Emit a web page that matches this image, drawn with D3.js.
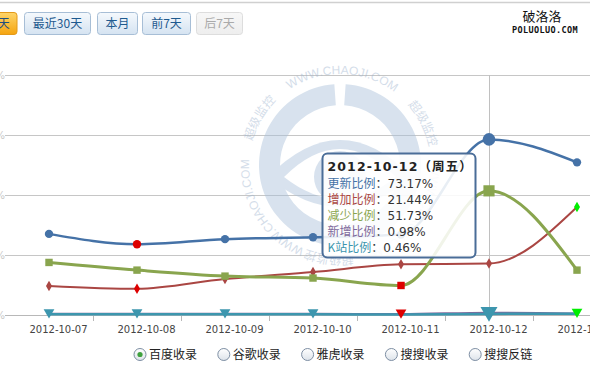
<!DOCTYPE html>
<html>
<head>
<meta charset="utf-8">
<script src="https://cdn.jsdelivr.net/npm/d3@7"></script>
<style>
  body { margin: 0; background: #fff; }
  svg { display: block; font-family: "DejaVu Sans", "Noto Sans CJK SC", sans-serif; }
</style>
</head>
<body>
<div id="viz"></div>
<script>
const dates = ["2012-10-07", "2012-10-08", "2012-10-09", "2012-10-10", "2012-10-11", "2012-10-12", "2012-10-13"];
const updateRatio = [33.8, 29.5, 31.6, 32.4, 33.5, 73.17, 63.6];
const addRatio = [12.1, 10.9, 15.0, 17.9, 21.1, 21.44, 45.0];
const reduceRatio = [21.9, 18.7, 16.2, 15.4, 12.3, 51.73, 18.7];
const newRatio = [0.5, 0.5, 0.5, 0.5, 0.4, 0.98, 0.6];
const kRatio = [0.3, 0.3, 0.3, 0.3, 0.2, 0.46, 0.5];
const seriesNames = ["更新比例", "增加比例", "减少比例", "新增比例", "K站比例"];
const yTicks = [0, 25, 50, 75, 100];
const rangeButtons = ["最近7天", "最近30天", "本月", "前7天", "后7天"];
const engines = ["百度收录", "谷歌收录", "雅虎收录", "搜搜收录", "搜搜反链"];
const hoverIndex = 5;
const hoverTitle = "2012-10-12（周五）";

const width = 590, height = 369;
const colors = ["#4572A7", "#AA4643", "#89A54E", "#80699B", "#3D96AE"];
const symbols = [d3.symbolCircle, d3.symbolDiamond, d3.symbolSquare, d3.symbolTriangle, d3.symbolTriangle];
const values = [updateRatio, addRatio, reduceRatio, newRatio, kRatio];

const svg = d3.select("#viz").append("svg").attr("width", width).attr("height", height);
const defs = svg.append("defs");

// top border line
svg.append("line").attr("x1", 0).attr("x2", width).attr("y1", 2.5).attr("y2", 2.5)
  .attr("stroke", "#d0d0d0").attr("stroke-width", 1.5);

// range buttons
function grad(id, c1, c2) {
  let g = defs.append("linearGradient").attr("id", id).attr("x1", 0).attr("x2", 0).attr("y1", 0).attr("y2", 1);
  g.append("stop").attr("offset", "0%").attr("stop-color", c1);
  g.append("stop").attr("offset", "100%").attr("stop-color", c2);
}
grad("btnOn", "#fed56a", "#f5a40f");
grad("btnOff", "#f5f9fd", "#d5e3f1");
grad("btnDis", "#f7f7f7", "#eeeeee");
const btnX = [-40, 24.5, 97.5, 142.5, 196.5];
const btnW = [57, 66, 40, 48, 46];
let btns = svg.append("g").selectAll("g").data(rangeButtons).join("g")
  .attr("transform", (d, i) => `translate(${btnX[i]},12.5)`);
btns.append("rect").attr("width", (d, i) => btnW[i]).attr("height", 22).attr("rx", 3)
  .attr("fill", (d, i) => i === 0 ? "url(#btnOn)" : i === 4 ? "url(#btnDis)" : "url(#btnOff)")
  .attr("stroke", (d, i) => i === 0 ? "#e39a1a" : i === 4 ? "#dddddd" : "#a7bed6");
btns.append("text").attr("x", (d, i) => btnW[i] / 2).attr("y", 15.5).attr("text-anchor", "middle")
  .attr("font-size", 12).attr("font-family", "Noto Sans CJK SC")
  .attr("fill", (d, i) => i === 0 ? "#1e4f80" : i === 4 ? "#aaaaaa" : "#1e5a8f")
  .text((d) => d);

// site logo
svg.append("text").attr("x", 542).attr("y", 21).attr("text-anchor", "middle")
  .attr("font-size", 13).attr("font-family", "Noto Sans CJK SC").attr("fill", "#111").text("破洛洛");
svg.append("text").attr("x", 545).attr("y", 32.5).attr("text-anchor", "middle")
  .attr("font-size", 8.5).attr("font-weight", "bold").attr("font-family", "DejaVu Sans Mono")
  .attr("letter-spacing", 0.4).attr("fill", "#111").text("POLUOLUO.COM");

// scales
const x = d3.scaleBand().domain(dates).range([5, 5 + 88 * dates.length]);
const cx = (d) => x(d) + x.bandwidth() / 2;
const y = d3.scaleLinear().domain([0, 100]).range([315, 75]);

// grid
const grid = svg.append("g");
grid.selectAll("line").data(yTicks.slice(1)).join("line")
  .attr("x1", 5).attr("x2", width).attr("y1", (d) => y(d) + 0.5).attr("y2", (d) => y(d) + 0.5)
  .attr("stroke", "#c6c6c6");
grid.selectAll("text").data(yTicks).join("text")
  .attr("x", 5).attr("y", (d) => y(d) + 4).attr("text-anchor", "end")
  .attr("font-size", 10).attr("fill", "#c8c8c8").text((d) => d + "%");

// watermark
const wm = svg.append("g").attr("transform", "translate(340,165)").attr("opacity", 0.45);
const ring = d3.arc().innerRadius(60).outerRadius(81);
wm.append("path").attr("d", ring({ startAngle: 0.07, endAngle: Math.PI * 2 - 0.07 })).attr("fill", "#a9c0da");
wm.append("path").attr("d", "M-72,12 Q0,-62 72,12 Q0,72 -72,12 Z").attr("fill", "#a9c0da");
wm.append("path").attr("d", "M-56,12 Q0,-44 56,12 Q0,56 -56,12 Z").attr("fill", "#ffffff");
wm.append("circle").attr("cx", 0).attr("cy", 12).attr("r", 26).attr("fill", "#a9c0da");
wm.append("circle").attr("cx", 0).attr("cy", 12).attr("r", 9).attr("fill", "#ffffff");
const tr = 91;
const a0 = (110 * Math.PI) / 180;
const p0 = [tr * Math.cos(a0), tr * Math.sin(a0)];
defs.append("path").attr("id", "wmPath")
  .attr("d", `M${p0[0]},${p0[1]} A${tr},${tr} 0 1 1 ${-p0[0]},${-p0[1]} A${tr},${tr} 0 1 1 ${p0[0]},${p0[1]}`);
const wmText = wm.append("text").attr("fill", "#9fb5cf").attr("font-size", 12).attr("font-family", "Liberation Sans, Noto Sans CJK SC");
const deg = (tr * Math.PI) / 180;
[0, 1, 2].forEach((k) => {
  wmText.append("textPath").attr("href", "#wmPath").attr("startOffset", (3 + 123 * k) * deg)
    .attr("textLength", 112).attr("lengthAdjust", "spacing").text("WWW.CHAOJI.COM");
  wmText.append("textPath").attr("href", "#wmPath").attr("startOffset", (85 + 123 * k) * deg)
    .attr("font-family", "Noto Sans CJK SC").text("超级监控");
});

// x axis
svg.append("line").attr("x1", 5).attr("x2", width).attr("y1", 315.5).attr("y2", 315.5)
  .attr("stroke", "#b8b8b8");
svg.append("g").selectAll("line").data(dates.slice(1)).join("line")
  .attr("x1", (d) => x(d) + 0.5).attr("x2", (d) => x(d) + 0.5).attr("y1", 315).attr("y2", 321)
  .attr("stroke", "#b8b8b8");
svg.append("g").selectAll("text").data(dates).join("text")
  .attr("x", (d) => cx(d) + 9.5).attr("y", 333).attr("text-anchor", "middle")
  .attr("font-size", 10).attr("fill", "#444").text((d) => d);

// crosshair
svg.append("line").attr("x1", cx(dates[hoverIndex]) + 0.5).attr("x2", cx(dates[hoverIndex]) + 0.5)
  .attr("y1", 75).attr("y2", 315).attr("stroke", "#c0c0c0");

// series
const line = d3.line().x((d, i) => cx(dates[i])).y((d) => y(d)).curve(d3.curveMonotoneX);
const lineW = [2.5, 2, 3, 2, 2.5];
const baseSize = [55, 32, 55, 55, 50];
values.forEach((vals, s) => {
  let g = svg.append("g");
  g.append("path").datum(vals).attr("d", line).attr("fill", "none")
    .attr("stroke", colors[s]).attr("stroke-width", lineW[s]);
  if (s === 3) return;
  let lo = d3.minIndex(vals), hi = d3.maxIndex(vals);
  let big = (i) => i === hoverIndex && s !== 1;
  g.selectAll("path.m").data(vals).join("path").attr("class", "m")
    .attr("transform", (d, i) => `translate(${cx(dates[i])},${y(d) - (s === 4 ? 2 : 0)})${s === 4 ? " rotate(180)" : ""}`)
    .attr("d", (d, i) => d3.symbol(symbols[s], big(i) ? 125 : baseSize[s])())
    .attr("fill", (d, i) => i === hoverIndex ? colors[s] : i === lo ? "#dd0000" : i === hi ? "#00ee00" : colors[s]);
});

// tooltip
const tip = svg.append("g").attr("transform", "translate(322.5,153.5)");
tip.append("rect").attr("width", 153).attr("height", 104).attr("rx", 5)
  .attr("fill", "rgba(255,255,255,0.88)").attr("stroke", "#4a6d98").attr("stroke-width", 2);
tip.append("text").attr("x", 5).attr("y", 17.5).attr("font-size", 12.5).attr("font-weight", "bold")
  .attr("letter-spacing", 1.1).attr("fill", "#222").text(hoverTitle);
let rows = tip.selectAll("text.row").data(seriesNames).join("text").attr("class", "row")
  .attr("x", 5).attr("y", (d, i) => 34 + 16 * i).attr("font-size", 12);
rows.append("tspan").attr("fill", (d, i) => colors[i]).attr("font-family", "Noto Sans CJK SC").text((d) => d);
rows.append("tspan").attr("fill", "#333").text((d, i) => "：" + values[i][hoverIndex].toFixed(2) + "%");

// engine selector
grad("radio", "#ffffff", "#dde3ea");
let eg = svg.append("g").selectAll("g").data(engines).join("g")
  .attr("transform", (d, i) => `translate(${140 + 83.8 * i},354.5)`);
eg.append("circle").attr("r", 6).attr("fill", "url(#radio)").attr("stroke", "#7d8ea3");
eg.filter((d, i) => i === 0).append("circle").attr("r", 2.6).attr("fill", "#3fa13f");
eg.append("text").attr("x", 9).attr("y", 4.5).attr("font-size", 12).attr("font-family", "Noto Sans CJK SC")
  .attr("fill", "#222").text((d) => d);
</script>
</body>
</html>
